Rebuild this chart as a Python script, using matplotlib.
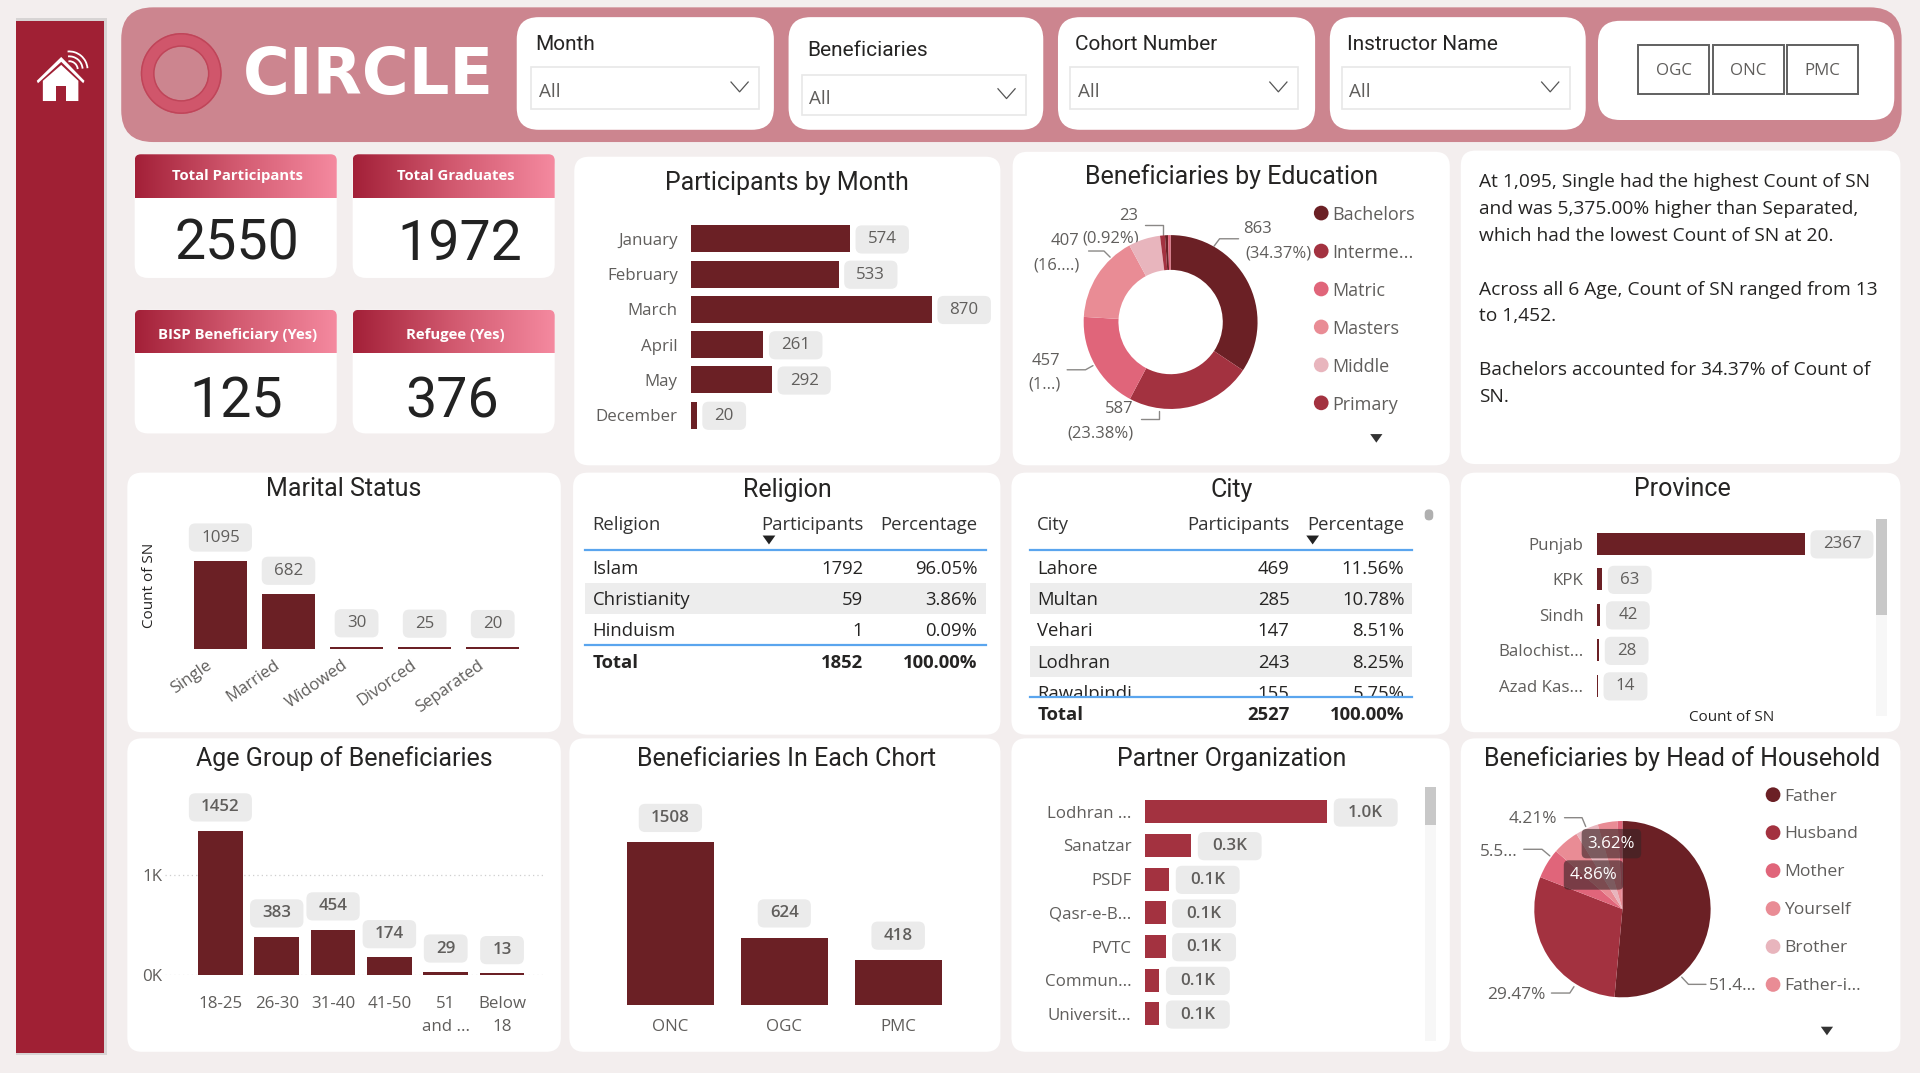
import numpy as np
import matplotlib
matplotlib.use("Agg")
import matplotlib.pyplot as plt
from matplotlib.patches import FancyBboxPatch, Rectangle, Wedge, Polygon, Circle, Arc, BoxStyle
from matplotlib.colors import LinearSegmentedColormap
from matplotlib.transforms import ScaledTranslation

# ---------- data ----------
months = ["January", "February", "March", "April", "May", "December"]
month_vals = [574, 533, 870, 261, 292, 20]
edu_cats = ["Bachelors", "Interme...", "Matric", "Masters", "Middle", "Primary"]
edu_vals = [863, 587, 457, 407, 148, 23, 14, 12]
marital = ["Single", "Married", "Widowed", "Divorced", "Separated"]
marital_vals = [1095, 682, 30, 25, 20]
rel_rows = ["Islam", "Christianity", "Hinduism"]
rel_part = [1792, 59, 1]
rel_pct = ["96.05%", "3.86%", "0.09%"]
city_rows = ["Lahore", "Multan", "Vehari", "Lodhran", "Rawalpindi"]
city_part = [469, 285, 147, 243, 155]
city_pct = ["11.56%", "10.78%", "8.51%", "8.25%", "5.75%"]
provinces = ["Punjab", "KPK", "Sindh", "Balochist...", "Azad Kas..."]
prov_vals = [2367, 63, 42, 28, 14]
ages = ["18-25", "26-30", "31-40", "41-50", "51\nand ...", "Below\n18"]
age_vals = [1452, 383, 454, 174, 29, 13]
cohorts = ["ONC", "OGC", "PMC"]
cohort_vals = [1508, 624, 418]
partners = ["Lodhran ...", "Sanatzar", "PSDF", "Qasr-e-B...", "PVTC", "Commun...", "Universit..."]
partner_vals = [1000, 255, 134, 114, 114, 80, 80]
partner_lbl = ["1.0K", "0.3K", "0.1K", "0.1K", "0.1K", "0.1K", "0.1K"]
head_cats = ["Father", "Husband", "Mother", "Yourself", "Brother", "Father-i..."]
head_vals = [51.44, 29.47, 5.5, 4.86, 4.21, 3.62, 0.9]
kpi_titles = ["Total Participants", "Total Graduates", "BISP Beneficiary (Yes)", "Refugee (Yes)"]
kpi_vals = ["2550", "1972", "125", "376"]
insight = ["At 1,095, Single had the highest Count of SN",
           "and was 5,375.00% higher than Separated,",
           "which had the lowest Count of SN at 20.", "",
           "Across all 6 Age, Count of SN ranged from 13",
           "to 1,452.", "",
           "Bachelors accounted for 34.37% of Count of",
           "SN."]

# ---------- style ----------
W, H = 1568.0, 876.3
SK = 1920 / 1568 / 1.3889   # display px -> points
BG = "#F3EEEE"; DARK = "#6B2025"; RED = "#A33240"; ROSE = "#E0657A"; SALMON = "#E98C95"; LIGHT = "#E8B5BD"
TITLE = "#252423"; LAB = "#605E5C"; PILL = "#EBEBEB"
BODY = "Open Sans"; HEAD = "Roboto"
plt.rcParams["font.family"] = [BODY, "DejaVu Sans"]

fig = plt.figure(figsize=(19.2, 10.73), dpi=100, facecolor=BG)
bg = fig.add_axes([0, 0, 1, 1])
bg.set_xlim(0, W); bg.set_ylim(H, 0); bg.axis("off")

def pill_style(hp, vp):
    def style(x0, y0, width, height, ms):
        return BoxStyle.Round(pad=0, rounding_size=0.38)(x0 - hp * ms, y0 - vp * ms, width + 2 * hp * ms, height + 2 * vp * ms, ms)
    return style

def panel(x0, y0, x1, y1, r=12, fc="white", ec="none", z=1):
    p = FancyBboxPatch((x0, y0), x1 - x0, y1 - y0, boxstyle=f"round,pad=0,rounding_size={r}",
                       fc=fc, ec=ec, lw=0.8, zorder=z, mutation_aspect=1)
    bg.add_patch(p)
    return p

def T(x, y, s, size=12.2, color=LAB, ha="left", va="center", font=BODY, weight="normal", z=6, **kw):
    return bg.text(x, y + 2, s, fontsize=size, color=color, ha=ha, va=va, family=[font, "DejaVu Sans"],
                   fontweight=weight, zorder=z, **kw)

def title(x, y, s, size=18):
    T(x, y - 0.5, s, size=size, color=TITLE, ha="center", font=HEAD, weight="normal")

def inset(x0, y0, x1, y1):
    ax = fig.add_axes([x0 / W, 1 - y1 / H, (x1 - x0) / W, (y1 - y0) / H])
    ax.patch.set_alpha(0)
    for s in ax.spines.values():
        s.set_visible(False)
    return ax

def hbars(x0, xright, yfirst, pitch, barh, scale, cats, vals, labels=None, gap=11, size=12.2, weight="normal", color=DARK):
    n = len(vals)
    ax = inset(x0, yfirst - pitch / 2, xright, yfirst + pitch * (n - 0.5))
    ax.barh(range(n), vals, height=barh / pitch, color=color)
    ax.set_xlim(0, (xright - x0) / scale); ax.set_ylim(n - 0.5, -0.5)
    ax.set_xticks([]); ax.set_yticks(range(n)); ax.set_yticklabels(cats, fontsize=size, color=LAB)
    ax.tick_params(axis="y", length=0, pad=gap * SK)
    labels = labels or [str(v) for v in vals]
    hp = 0.72 if weight == "normal" else 0.85
    off = (14.5 if weight == "normal" else 17) * SK
    for i, v in enumerate(vals):
        ax.annotate(labels[i], (v, i), xytext=(off, -0.5), textcoords="offset points", ha="left", va="center",
                    fontsize=size, color=LAB, fontweight=weight, annotation_clip=False, zorder=5,
                    bbox=dict(boxstyle=pill_style(hp, 0.36), fc=PILL, ec="none"))
    return ax

def vbars(x0c, pitch, ybase, ytop, scale, barw, cats, vals, lab_off=19, xl=None, size=12.2, weight="normal"):
    n = len(vals)
    xl = xl or (x0c - pitch / 2, x0c + pitch * (n - 0.5))
    ax = inset(xl[0], ytop, xl[1], ybase)
    ax.bar(range(n), vals, width=barw / pitch, color=DARK)
    ax.set_xlim((xl[0] - x0c) / pitch, (xl[1] - x0c) / pitch)
    ax.set_ylim(0, (ybase - ytop) / scale)
    ax.set_xticks(range(n)); ax.set_xticklabels(cats, fontsize=size, color=LAB, linespacing=1.6)
    ax.set_yticks([])
    ax.tick_params(axis="x", length=0)
    for i, v in enumerate(vals):
        ax.annotate(str(v), (i, v), xytext=(0, lab_off * SK), textcoords="offset points", ha="center", va="center",
                    fontsize=size, color=LAB, fontweight=weight, annotation_clip=False, zorder=5,
                    bbox=dict(boxstyle=pill_style(0.72, 0.36), fc=PILL, ec="none"))
    return ax

def leader(pts):
    bg.plot([p[0] for p in pts], [p[1] for p in pts], color="#8A8886", lw=1.0, zorder=6, solid_capstyle="round")

def down_tri(x, y, s=5, c="#333333"):
    bg.add_patch(Polygon([(x - s, y - s * 0.7), (x + s, y - s * 0.7), (x, y + s * 0.7)], fc=c, ec="none", zorder=6))

def legend(x, ys, cats, cols, textx, size):
    for yy, c, col in zip(ys, cats, cols):
        bg.add_patch(Circle((x, yy), 6, fc=col, ec="none", zorder=6))
        T(textx, yy - 0.5, c, size=size)

# ---------- frame ----------
bg.add_patch(Rectangle((13, 14.5), 74, 847, fc="#999999", alpha=0.3, ec="none", zorder=0.5))
bg.add_patch(Rectangle((13, 17), 72, 843, fc="#A02034", ec="none", zorder=1))
panel(99, 6, 1553, 116, r=26, fc="#CC858F")

# home icon
bg.add_patch(Polygon([(35, 82.5), (35, 66), (50, 53), (64, 66), (64, 82.5)], fc="white", ec="none", zorder=3))
bg.add_patch(Polygon([(30, 66), (50, 46.5), (69, 66), (68, 68), (50, 50.5), (31, 68)], fc="white", ec="none", zorder=3))
bg.add_patch(Rectangle((45.5, 70), 8, 13, fc="#A02034", ec="none", zorder=4))
for rad in (7, 11, 15):
    bg.add_patch(Arc((56.5, 57), 2 * rad, 2 * rad, theta1=-95, theta2=-5, color="white", lw=1.3, zorder=4))

# logo
bg.add_patch(Wedge((148, 60), 33, 0, 360, width=11, fc="#D0566B", ec="none", zorder=3))
bg.add_patch(Wedge((148, 60), 33, 0, 360, width=1.2, fc="#BF4559", ec="none", zorder=4))
bg.add_patch(Wedge((148, 60), 23, 0, 360, width=1.2, fc="#BF4559", ec="none", zorder=4))
T(198, 60, "CIRCLE", size=46, color="white", font="DejaVu Sans", weight="bold")

# slicers
slicers = [("Month", 422, 632, 437, 35, 434, 620, 55, 89),
           ("Beneficiaries", 644, 852, 659, 40, 655, 838, 61, 94),
           ("Cohort Number", 864, 1074, 878, 35, 874, 1060, 55, 89),
           ("Instructor Name", 1086, 1295, 1100, 35, 1096, 1282, 55, 89)]
for name, x0, x1, tx, ty, bx0, bx1, by0, by1 in slicers:
    panel(x0, 14, x1, 106, r=18)
    T(tx, ty - 1, name, size=15, color=TITLE, font=HEAD, weight="normal")
    bg.add_patch(Rectangle((bx0, by0), bx1 - bx0, by1 - by0, fc="white", ec="#E8E8E8", lw=1.2, zorder=3))
    T(bx0 + 6, (by0 + by1) / 2 + 1, "All", size=13.6)
    cx, cy = bx1 - 16, (by0 + by1) / 2 - 1
    bg.plot([cx - 7, cx, cx + 7], [cy - 4, cy + 4, cy - 4], color="#555555", lw=0.9, zorder=5)

panel(1305, 17, 1547, 98, r=18)
for lab, x0, x1 in [("OGC", 1338, 1396), ("ONC", 1399, 1457), ("PMC", 1459, 1517)]:
    bg.add_patch(Rectangle((x0, 37), x1 - x0, 40, fc="white", ec="#606060", lw=1.4, zorder=3))
    T((x0 + x1) / 2, 56, lab, size=12.2, ha="center")

# KPI cards
cmap = LinearSegmentedColormap.from_list("kpi", ["#A32038", "#D25A70", "#F58AA0"])
grad = np.linspace(0, 1, 256).reshape(1, -1)
cards = [(110, 275, 126, 227, 162), (288, 453, 126, 227, 162), (110, 275, 253, 354, 288), (288, 453, 253, 354, 288)]
kpi_x = [193.5, 375.5, 193, 369]
kpi_y = [197, 198, 326, 326]
for (x0, x1, y0, y1, yh), t, v, kx, ky in zip(cards, kpi_titles, kpi_vals, kpi_x, kpi_y):
    panel(x0, y0, x1, y1, r=11)
    clip = panel(x0, y0, x1, yh + 20, r=5, fc="none")
    im = bg.imshow(grad, cmap=cmap, extent=(x0, x1, yh, y0), aspect="auto", zorder=2)
    im.set_clip_path(clip)
    T((x0 + x1) / 2 + 1.5, (y0 + yh) / 2 - 2 + (3 if y0 == 253 else 0), t, size=10.7, color="white", ha="center", weight="bold")
    T(kx, ky, v, size=40, color="#222222", ha="center", font=HEAD, weight="normal")
bg.set_xlim(0, W); bg.set_ylim(H, 0)

# panels
rects = [(469, 128, 817, 380), (827, 124, 1184, 380), (1193, 123, 1552, 379),
         (104, 386, 458, 598), (468, 386, 817, 600), (826, 386, 1184, 600), (1193, 386, 1552, 598),
         (104, 603, 458, 859), (465, 603, 817, 859), (826, 603, 1184, 859), (1193, 603, 1552, 859)]
for r in rects:
    panel(*r, r=12)

# Participants by Month
title(643, 148, "Participants by Month")
hbars(564.5, 810, 195, 28.8, 22, 196.5 / 870, months, month_vals)

# Education donut
title(1006, 143, "Beneficiaries by Education")
edu_colors = [DARK, RED, ROSE, SALMON, LIGHT, RED, DARK, ROSE]
ax = inset(956 - 71, 263 - 71, 956 + 71, 263 + 71)
ax.pie(edu_vals, colors=edu_colors, startangle=90, counterclock=False, radius=1,
       wedgeprops=dict(width=0.4, linewidth=0))
ax.set_xlim(-1, 1); ax.set_ylim(-1, 1)
legend(1079, [174, 205, 236, 267, 298, 329], edu_cats, [DARK, RED, ROSE, SALMON, LIGHT, RED], 1088, 13)
down_tri(1124, 358)
for x, y, s in [(922, 174, "23"), (870, 195, "407"), (907, 193, "(0.92%)"), (863, 215, "(16....)"),
                (1027, 185, "863"), (1044, 205, "(34.37%)"), (854, 293, "457"), (853, 312, "(1...)"),
                (914, 332, "587"), (899, 352, "(23.38%)")]:
    T(x, y, s, size=12, ha="center")
leader([(935, 184), (950, 184), (950, 192)])
leader([(889, 205), (901.6, 205), (906.6, 210)])
leader([(1011.5, 195), (996, 195), (991.5, 201)])
leader([(871.5, 302), (886.5, 302), (892.6, 298.6)])
leader([(931.5, 342), (946.6, 342), (946.6, 335.4)])

# Insight text
line_y = [147, 169, 191, 213, 235, 256, 278, 300, 322]
for yy, s in zip(line_y, insight):
    T(1208, yy, s, size=13.8, color=TITLE)

# Marital
title(281, 398, "Marital Status")
ax = vbars(180, 55.6, 530, 420, 72 / 1095, 43, marital, marital_vals)
ax.set_xticklabels(marital, fontsize=12, color=LAB, rotation=35, ha="right", rotation_mode="anchor")
ax.tick_params(axis="x", pad=6)
shift = ScaledTranslation(-12 * SK / 72, 0, fig.dpi_scale_trans)
for lb in ax.get_xticklabels():
    lb.set_transform(lb.get_transform() + shift)
T(122, 476, "Count of SN", size=11, color=TITLE, ha="center", rotation=90)

# Tables
def table(cols_r, left, x0, x1, rows, part, pct, ys, total, tri_x, ybot, hdr):
    TS = 13.3
    T(left, 427, hdr[0], size=TS, color="#333333")
    T(cols_r[0], 427, hdr[1], size=TS, color="#333333", ha="right")
    T(cols_r[1], 427, hdr[2], size=TS, color="#333333", ha="right")
    down_tri(tri_x, 441, s=5.2, c="#222222")
    for i, yy in enumerate(ys):
        if i % 2 == 1:
            bg.add_patch(Rectangle((x0, yy - 12.7), x1 - x0, 25.4, fc="#EDEDED", ec="none", zorder=2))
        T(left, yy - 0.5, rows[i], size=TS, color="#252423")
        T(cols_r[0], yy - 0.5, str(part[i]), size=TS, color="#252423", ha="right")
        T(cols_r[1], yy - 0.5, pct[i], size=TS, color="#252423", ha="right")
    bg.plot([x0, x1], [449, 449], color="#5AA5EE", lw=1.6, zorder=7)
    bg.plot([x0, x1], [ybot, ybot], color="#5AA5EE", lw=1.6, zorder=9)
    for xx, s, ha in [(left, "Total", "left"), (cols_r[0], total[0], "right"), (cols_r[1], total[1], "right")]:
        T(xx, ybot + 13, s, size=TS, color="#252423", weight="bold", ha=ha, z=10)

title(643, 399, "Religion")
table((705, 798), 484, 478, 805, rel_rows, rel_part, rel_pct, [463, 488.5, 514], ("1852", "100.00%"), 628, 526.5,
      ("Religion", "Participants", "Percentage"))
title(1006, 399, "City")
table((1053, 1147), 847, 841, 1153, city_rows, city_part, city_pct, [463, 488.5, 514, 540, 565], ("2527", "100.00%"), 1072, 569,
      ("City", "Participants", "Percentage"))
bg.add_patch(Rectangle((838, 569.5), 318, 6, fc="white", ec="none", zorder=8))
bg.add_patch(FancyBboxPatch((1163.5, 416), 7, 9, boxstyle="round,pad=0,rounding_size=3.5", fc="#B0B0B0", ec="none", zorder=6))

# Province
title(1374, 398, "Province")
hbars(1304, 1530, 444, 29, 18, 170 / 2367, provinces, prov_vals)
bg.add_patch(Rectangle((1532, 424), 9, 161, fc="#F7F7F7", ec="none", zorder=3))
bg.add_patch(Rectangle((1532, 424), 9, 78, fc="#C8C8C8", ec="none", zorder=4))
T(1414, 584, "Count of SN", size=11, color=TITLE, ha="center")

# Age
title(281, 618, "Age Group of Beneficiaries")
ax = vbars(180, 46, 796, 650, 0.081, 36.5, ages, age_vals, xl=(135, 445), weight="semibold")
ax.set_yticks([0, 1000]); ax.set_yticklabels(["0K", "1K"], fontsize=12.2, color=LAB)
ax.tick_params(axis="y", length=0, pad=2)
ax.grid(axis="y", color="#CFCFCF", lw=0.9, linestyle=(0, (1, 2.5)))
ax.set_axisbelow(True)
ax.tick_params(axis="x", pad=15)

# Cohort
title(642, 618, "Beneficiaries In Each Chort")
ax = vbars(547.5, 93, 821, 655, 133 / 1508, 71, cohorts, cohort_vals, lab_off=20, weight="semibold")
ax.tick_params(axis="x", pad=10)

# Partner
title(1006, 618, "Partner Organization")
hbars(935, 1150, 663, 27.5, 19, 149 / 1000, partners, partner_vals, labels=partner_lbl, weight="semibold", color=RED)
bg.add_patch(Rectangle((1164, 643), 9, 207, fc="#F7F7F7", ec="none", zorder=3))
bg.add_patch(Rectangle((1164, 643), 9, 31, fc="#C8C8C8", ec="none", zorder=4))

# Head of household
title(1374, 618, "Beneficiaries by Head of Household")
head_colors = [DARK, RED, ROSE, SALMON, LIGHT, SALMON, ROSE]
ax = inset(1325 - 72, 742.5 - 72, 1325 + 72, 742.5 + 72)
ax.pie(head_vals, colors=head_colors, startangle=90, counterclock=False, radius=1, wedgeprops=dict(linewidth=0))
ax.set_xlim(-1, 1); ax.set_ylim(-1, 1)
legend(1448, [649, 680, 711, 742, 773, 804], head_cats, [DARK, RED, ROSE, SALMON, LIGHT, SALMON], 1457, 12.6)
down_tri(1492, 842)
for x, y, s in [(1252, 667, "4.21%"), (1224, 694, "5.5..."), (1415, 803, "51.4..."), (1238, 811, "29.47%")]:
    T(x, y, s, size=12.4, ha="center")
leader([(1277.7, 667.8), (1292, 667.8), (1295, 675)])
leader([(1244.4, 693.6), (1259.3, 693.6), (1265.7, 699)])
leader([(1373.4, 798), (1378.9, 803.9), (1393.2, 803.9)])
leader([(1285.4, 805.8), (1282, 811), (1267, 811)])

ov = fig.add_axes([0, 0, 1, 1]); ov.set_xlim(0, W); ov.set_ylim(H, 0); ov.axis("off"); ov.patch.set_alpha(0)
for cx, cy, s in [(1316, 689, "3.62%"), (1301.4, 714.6, "4.86%")]:
    ov.add_patch(FancyBboxPatch((cx - 24.3, cy - 12), 48.6, 24, boxstyle="round,pad=0,rounding_size=4",
                                fc="#3A2426", alpha=0.62, ec="none"))
    ov.text(cx, cy, s, fontsize=12.2, color="white", ha="center", va="center")

fig.savefig("out.png", dpi=100, facecolor=BG)
